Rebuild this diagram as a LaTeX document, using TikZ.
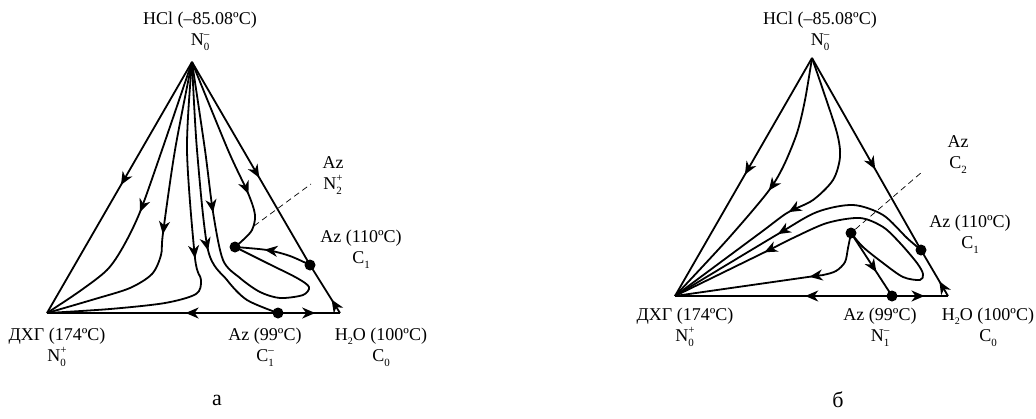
\documentclass[tikz,border=0pt]{standalone}
\usepackage{fontspec}
\setmainfont{Liberation Serif}
\usetikzlibrary{arrows.meta,decorations.markings}
\newcommand\NSS[3]{#1\rlap{\raisebox{-0.28em}{\fontsize{11}{11}\selectfont #2}}\raisebox{0.45em}{\fontsize{11}{11}\selectfont #3}}
\newcommand\NS[2]{#1\raisebox{-0.28em}{\fontsize{11}{11}\selectfont #2}}
\newcommand\NSs[2]{#1\raisebox{-0.25em}{\fontsize{10}{10}\selectfont #2}}
\tikzset{
  ln/.style={line width=1.8pt, line join=round},
  arr/.style={postaction={decorate}, decoration={markings, mark=at position #1 with {\arrow{Stealth[length=13pt,width=11pt,inset=4pt]}}}},
  dot/.style={circle, fill=black, inner sep=0pt, minimum size=11pt},
  lbl/.style={font=\fontsize{18}{21}\selectfont, align=center, inner sep=0pt},
  captxt/.style={font=\fontsize{22}{22}\selectfont, inner sep=0pt},
  dsh/.style={line width=0.7pt, dash pattern=on 6pt off 4pt},
}
\begin{document}
\begin{tikzpicture}[x=1pt,y=-1pt]
\useasboundingbox (0,0) rectangle (1036,418);
% ---------- left diagram (a) ----------
\coordinate (T1) at (192,62);
\coordinate (L1) at (47,313);
\coordinate (R1) at (340,313);
\node[dot] (C1a) at (310,265) {};
\node[dot] (B1) at (278,313) {};
\node[dot] (N2) at (235,247) {};
\draw[ln,arr=0.49] (T1) -- (L1);
\draw[ln,arr=0.57] (T1) -- (C1a.center);
\draw[ln,arr=0.28] (R1) -- (C1a.center);
\draw[ln,arr=0.40] (B1.center) -- (L1);
\draw[ln,arr=0.60] (B1.center) -- (R1);
\draw[ln,arr=0.53] plot[smooth] coordinates {(T1) (162,150) (140,212) (123,247) (107,270) (80,291) (L1)};
\draw[ln,arr=0.53] plot[smooth] coordinates {(T1) (175,150) (163,233) (161,255) (152,274) (130,288) (95,299) (L1)};
\draw[ln,arr=0.51] plot[smooth] coordinates {(T1) (187,150) (195,258) (201,280) (196,294) (165,303) (110,309) (L1)};
\draw[ln,arr=0.66] plot[smooth] coordinates {(T1) (197,150) (208,250) (227,280) (247,300) (B1.center)};
\draw[ln,arr=0.39] plot[smooth] coordinates {(T1) (205,150) (213,212) (223,260) (240,278) (260,292) (280,298) (303,295) (309,287) (297,278) (267,263) (N2.center)};
\draw[ln,arr=0.70] plot[smooth] coordinates {(T1) (228,150) (248,193) (255,215) (252,230) (243,240) (N2.center)};
\draw[ln,arr=0.62] plot[smooth] coordinates {(C1a.center) (290,256) (267,250) (N2.center)};
\coordinate (D1a) at (254,226);
\coordinate (D1b) at (311,184);
\draw[dsh] (D1a) -- (D1b);
\node[lbl] (hcl1) at (200,31) {HCl (–85.08ºC)\\\NSS{N}{0}{–}};
\node[lbl] (dxg1) at (57,347) {ДХГ (174ºC)\\\NSS{N}{0}{+}};
\node[lbl] (az99a) at (265,347) {Az (99ºC)\\\NSS{C}{1}{–}};
\node[lbl] (h2o1) at (381,347) {\NSs{H}{2}O (100ºC)\\\NS{C}{0}};
\node[lbl] (az110a) at (361,249) {Az (110ºC)\\\NS{C}{1}};
\node[lbl] (azn2) at (333,176) {Az\\\NSS{N}{2}{+}};
\node[captxt] (capa) at (217,400) {а};
% ---------- right diagram (b) ----------
\coordinate (T2) at (812,58);
\coordinate (L2) at (675,296);
\coordinate (R2) at (948,296);
\node[dot] (C1b) at (921,250) {};
\node[dot] (B2) at (892,296) {};
\node[dot] (C2) at (851,233) {};
\draw[ln,arr=0.49] (T2) -- (L2);
\draw[ln,arr=0.58] (T2) -- (C1b.center);
\draw[ln,arr=0.32] (R2) -- (C1b.center);
\draw[ln,arr=0.40] (B2.center) -- (L2);
\draw[ln,arr=0.58] (B2.center) -- (R2);
\draw[ln,arr=0.50] plot[smooth] coordinates {(T2) (805,100) (797,133) (783,167) (767,193) (727,240) (L2)};
\draw[ln,arr=0.565] plot[smooth] coordinates {(T2) (823,90) (837,133) (840,157) (833,180) (813,200) (787,213) (760,233) (L2)};
\draw[ln,arr=0.58] plot[smooth] coordinates {(C1b.center) (907,238) (883,215) (853,205) (817,212) (778,234) (L2)};
\draw[ln,arr=0.74] plot[smooth] coordinates {(C2.center) (863,247) (883,263) (903,277) (920,280) (923,274) (917,263) (900,243) (883,227) (860,218) (827,223) (793,238) (765,252) (L2)};
\draw[ln,arr=0.62] (C2.center) -- (B2.center);
\draw[ln,arr=0.34] plot[smooth] coordinates {(C2.center) (848,248) (845,262) (836,271) (823,275) (808,277) (L2)};
\coordinate (D2b) at (922,172);
\draw[dsh] (C2) -- (D2b);
\node[lbl] (hcl2) at (820,31) {HCl (–85.08ºC)\\\NSS{N}{0}{–}};
\node[lbl] (dxg2) at (685,327) {ДХГ (174ºC)\\\NSS{N}{0}{+}};
\node[lbl] (az99b) at (880,327) {Az (99ºC)\\\NSS{N}{1}{–}};
\node[lbl] (h2o2) at (988,327) {\NSs{H}{2}O (100ºC)\\\NS{C}{0}};
\node[lbl] (az110b) at (970,234) {Az (110ºC)\\\NS{C}{1}};
\node[lbl] (azc2) at (958,155) {Az\\\NS{C}{2}};
\node[captxt] (capb) at (838,400) {б};
\end{tikzpicture}
\end{document}
